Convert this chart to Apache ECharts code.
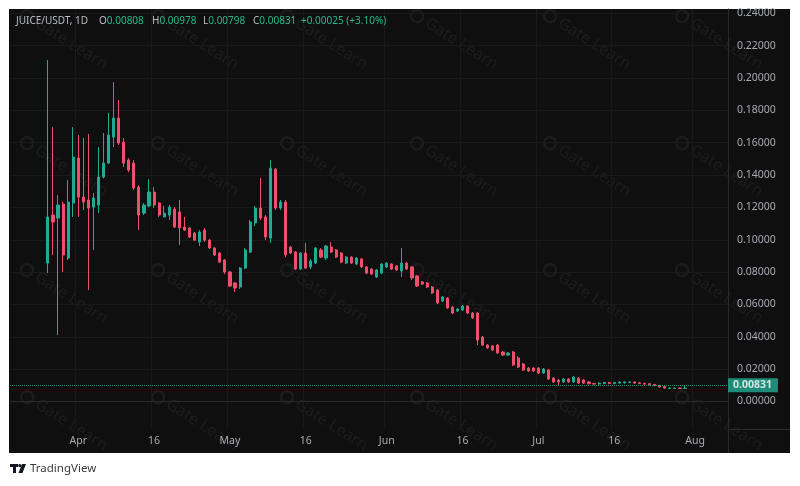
<!DOCTYPE html>
<html><head><meta charset="utf-8">
<script src="https://cdn.jsdelivr.net/npm/echarts@6/dist/echarts.min.js"></script>
<style>html,body{margin:0;padding:0;background:#fff}#c{width:800px;height:486px}</style>
</head><body><div id="c"></div>
<script>
// ---- data ----
const axisStartDate = '2024-03-19';
const axisDayCount = 142;
const firstCandleDate = '2024-03-26';
const opens = [0.0856,0.1153,0.1134,0.1221,0.0887,0.1227,0.1505,0.1264,0.1246,0.1202,
0.1215,0.1388,0.1474,0.1635,0.1753,0.1604,0.1493,0.1474,0.1326,0.1165,
0.1209,0.1295,0.1227,0.1141,0.1153,0.1190,0.1172,0.1079,0.1073,0.1042,
0.0986,0.1060,0.0998,0.0949,0.0918,0.0875,0.0801,0.0733,0.0708,0.0825,
0.0924,0.1104,0.1196,0.1141,0.1011,0.1437,0.1196,0.1233,0.0955,0.0924,
0.0819,0.0918,0.0832,0.0856,0.0937,0.0887,0.0955,0.0937,0.0918,0.0856,
0.0893,0.0850,0.0881,0.0832,0.0819,0.0770,0.0794,0.0832,0.0850,0.0838,
0.0807,0.0856,0.0832,0.0776,0.0739,0.0733,0.0708,0.0689,0.0621,0.0640,
0.0584,0.0560,0.0566,0.0590,0.0547,0.0547,0.0399,0.0349,0.0343,0.0349,
0.0306,0.0287,0.0306,0.0269,0.0232,0.0207,0.0207,0.0207,0.0176,0.0195,
0.0145,0.0133,0.0121,0.0139,0.0121,0.0145,0.0133,0.0121,0.0111,0.0108,
0.0111,0.0117,0.0111,0.0114,0.0115,0.0118,0.0121,0.0116,0.0112,0.0110,
0.0105,0.0099,0.0093,0.0080,0.0081,0.0083,0.00808];
const closes = [0.1141,0.1110,0.1215,0.0906,0.1233,0.1511,0.1264,0.1233,0.1196,0.1258,
0.1388,0.1474,0.1648,0.1753,0.1598,0.1474,0.1431,0.1320,0.1153,0.1215,
0.1295,0.1215,0.1153,0.1165,0.1202,0.1079,0.1073,0.1060,0.1017,0.0998,
0.1048,0.0998,0.0949,0.0906,0.0862,0.0801,0.0714,0.0702,0.0825,0.0937,
0.1110,0.1196,0.1134,0.1017,0.1443,0.1196,0.1233,0.0906,0.0918,0.0819,
0.0918,0.0825,0.0869,0.0949,0.0893,0.0961,0.0924,0.0893,0.0862,0.0893,
0.0856,0.0887,0.0832,0.0794,0.0788,0.0813,0.0850,0.0856,0.0819,0.0813,
0.0856,0.0819,0.0764,0.0714,0.0726,0.0708,0.0671,0.0609,0.0646,0.0578,
0.0547,0.0572,0.0590,0.0547,0.0516,0.0380,0.0349,0.0331,0.0318,0.0300,
0.0287,0.0300,0.0226,0.0213,0.0195,0.0189,0.0189,0.0176,0.0201,0.0139,
0.0121,0.0121,0.0139,0.0121,0.0151,0.0114,0.0114,0.0111,0.0108,0.0114,
0.0117,0.0111,0.0117,0.0120,0.0121,0.0121,0.0114,0.0111,0.0108,0.0104,
0.0098,0.0090,0.0083,0.0083,0.0083,0.00806,0.00831];
const lows = [0.0794,0.0906,0.0411,0.0801,0.0875,0.1141,0.1141,0.1184,0.0689,0.0937,
0.1165,0.1380,0.1468,0.1573,0.1586,0.1450,0.1419,0.1308,0.1060,0.1153,
0.1202,0.1196,0.1141,0.1141,0.1122,0.1073,0.0968,0.1054,0.1011,0.0992,
0.0961,0.0986,0.0943,0.0900,0.0856,0.0788,0.0708,0.0677,0.0696,0.0819,
0.0918,0.1085,0.1122,0.0998,0.0980,0.1184,0.1184,0.0893,0.0912,0.0813,
0.0813,0.0819,0.0819,0.0850,0.0887,0.0875,0.0918,0.0887,0.0856,0.0850,
0.0850,0.0844,0.0825,0.0788,0.0782,0.0764,0.0788,0.0825,0.0813,0.0807,
0.0770,0.0813,0.0751,0.0708,0.0720,0.0702,0.0665,0.0603,0.0615,0.0572,
0.0541,0.0553,0.0560,0.0541,0.0510,0.0349,0.0343,0.0325,0.0312,0.0294,
0.0281,0.0281,0.0220,0.0207,0.0189,0.0183,0.0183,0.0170,0.0170,0.0133,
0.0115,0.0102,0.0115,0.0115,0.0115,0.0108,0.0108,0.0105,0.0104,0.0104,
0.0107,0.0107,0.0107,0.0110,0.0111,0.0114,0.0110,0.0107,0.0104,0.0100,
0.0094,0.0086,0.0079,0.0077,0.0078,0.0078,0.00798];
const highs = [0.2111,0.1697,0.1277,0.1235,0.1369,0.1697,0.1648,0.1629,0.1654,0.1289,
0.1573,0.1660,0.1784,0.1975,0.1864,0.1629,0.1505,0.1493,0.1338,0.1227,
0.1375,0.1326,0.1233,0.1209,0.1215,0.1202,0.1246,0.1141,0.1079,0.1048,
0.1060,0.1073,0.1004,0.0955,0.0924,0.0881,0.0807,0.0739,0.0832,0.0949,
0.1122,0.1209,0.1382,0.1153,0.1493,0.1443,0.1246,0.1246,0.0961,0.0930,
0.0924,0.0980,0.0881,0.0955,0.0949,0.0968,0.0986,0.0943,0.0924,0.0900,
0.0900,0.0893,0.0887,0.0838,0.0825,0.0819,0.0856,0.0862,0.0856,0.0844,
0.0949,0.0862,0.0838,0.0782,0.0745,0.0739,0.0714,0.0696,0.0652,0.0646,
0.0590,0.0578,0.0596,0.0596,0.0553,0.0553,0.0405,0.0355,0.0349,0.0355,
0.0312,0.0306,0.0312,0.0281,0.0238,0.0213,0.0213,0.0213,0.0207,0.0201,
0.0151,0.0139,0.0145,0.0145,0.0157,0.0151,0.0139,0.0127,0.0115,0.0118,
0.0121,0.0121,0.0121,0.0124,0.0125,0.0125,0.0125,0.0120,0.0116,0.0114,
0.0109,0.0103,0.0097,0.0087,0.0087,0.0087,0.00978];
const priceTicks = [0,0.02,0.04,0.06,0.08,0.10,0.12,0.14,0.16,0.18,0.20,0.22,0.24];
const monthNames = ['Jan','Feb','Mar','Apr','May','Jun','Jul','Aug','Sep','Oct','Nov','Dec'];
const lastPrice = 0.00831;
const headerSymbol = 'JUICE/USDT, 1D';
const headerOHLC = [['O','0.00808'],['H','0.00978'],['L','0.00798'],['C','0.00831']];
const headerChange = '+0.00025 (+3.10%)';

// ---- build ----
function ymd(d){return d.toISOString().slice(0,10);}
const categories = [];
{ const d = new Date(axisStartDate+'T00:00:00Z'); for(let i=0;i<axisDayCount;i++){categories.push(ymd(d)); d.setUTCDate(d.getUTCDate()+1);} }
const offset = categories.indexOf(firstCandleDate);
const candleData = categories.map((c,i)=>{const k=i-offset; return (k>=0&&k<opens.length)?[opens[k],closes[k],lows[k],highs[k]]:'-';});

const UP='#22ab94', DOWN='#ef4f6c';
const FONT='"Noto Sans", sans-serif';
const labelDay = (idx,val)=>{const dd=val.slice(8,10); return dd==='01'||dd==='16';};

const graphics = [];
graphics.push({type:'rect', z:-10, silent:true, shape:{x:9,y:9,width:781,height:444}, style:{fill:'#0f0f0f'}});
graphics.push({type:'line', z:5, silent:true, shape:{x1:728.5,y1:429,x2:728.5,y2:453}, style:{stroke:'#2b2b2b',lineWidth:1}});
graphics.push({type:'line', z:5, silent:true, shape:{x1:728,y1:429.5,x2:790,y2:429.5}, style:{stroke:'#2b2b2b',lineWidth:1}});
// watermarks
const wmX=[22,153,282,412,545,677], wmY=[13,140,267,394];
wmY.forEach(y=>wmX.forEach(x=>{
  graphics.push({type:'group', x:x, y:y, rotation:-0.56, z:-5, silent:true, children:[
    {type:'circle', shape:{cx:6,cy:0,r:6}, style:{fill:'none',stroke:'rgba(255,255,255,0.055)',lineWidth:2.5}},
    {type:'text', x:17, y:0, style:{text:'Gate Learn', fill:'rgba(255,255,255,0.055)', font:'16px '+FONT, verticalAlign:'middle'}}
  ]});
}));
// header
const HF='10px '+FONT;
graphics.push({type:'text', z:10, x:16, y:21, style:{text:headerSymbol, fill:'#b9bcc4', font:HF, verticalAlign:'middle'}});
const hx=[99,152,203,253];
headerOHLC.forEach((p,i)=>{
  graphics.push({type:'text', z:10, x:hx[i], y:21, style:{text:'{l|'+p[0]+'}{v|'+p[1]+'}', font:HF, verticalAlign:'middle',
    rich:{l:{fill:'#b9bcc4', font:HF}, v:{fill:'#2bb88c', font:HF}}}});
});
graphics.push({type:'text', z:10, x:301, y:21, style:{text:headerChange, fill:'#2bb88c', font:HF, verticalAlign:'middle'}});
// TradingView footer
graphics.push({type:'rect', silent:true, shape:{x:10,y:464,width:8,height:3}, style:{fill:'#131722'}});
graphics.push({type:'rect', silent:true, shape:{x:13,y:464,width:3,height:9}, style:{fill:'#131722'}});
graphics.push({type:'circle', silent:true, shape:{cx:19.8,cy:465.6,r:1.6}, style:{fill:'#131722'}});
graphics.push({type:'polygon', silent:true, shape:{points:[[22,464],[26,464],[22.5,473],[18.5,473]]}, style:{fill:'#131722'}});
graphics.push({type:'text', x:30, y:469, style:{text:'TradingView', fill:'#3b3b3b', font:'11.5px '+FONT, verticalAlign:'middle'}});

const chart = echarts.init(document.getElementById('c'), null, {renderer:'canvas'});
chart.setOption({
  backgroundColor:'#ffffff',
  animation:false,
  textStyle:{fontFamily:FONT},
  grid:{left:10, right:72, top:9, bottom:57},
  xAxis:{type:'category', data:categories, boundaryGap:true,
    axisLine:{show:true, lineStyle:{color:'#2b2b2b'}},
    axisTick:{show:false},
    axisLabel:{interval:labelDay, color:'#a8abb3', fontSize:10.5, margin:7,
      formatter:v=>{const dd=v.slice(8,10); return dd==='01'?monthNames[+v.slice(5,7)-1]:'16';}},
    splitLine:{show:true, interval:labelDay, lineStyle:{color:'#191919'}}},
  yAxis:{type:'value', position:'right', min:-0.0170, max:0.2427, scale:false,
    axisLine:{show:true, lineStyle:{color:'#2b2b2b'}},
    axisTick:{show:false, customValues:priceTicks},
    axisLabel:{customValues:priceTicks, color:'#a8abb3', fontSize:10.5, margin:9, formatter:v=>v.toFixed(5)},
    splitLine:{show:true, lineStyle:{color:'#191919'}}},
  graphic:graphics,
  series:[{type:'candlestick', data:candleData, barWidth:2.6,
    itemStyle:{color:UP, color0:DOWN, borderColor:UP, borderColor0:DOWN, borderWidth:1},
    markLine:{silent:true, symbol:['none','none'], data:[{yAxis:lastPrice}],
      lineStyle:{color:'#22ab94', type:'dotted', width:1, opacity:0.8},
      label:{position:'end', distance:0, formatter:()=>lastPrice.toFixed(5), color:'#fff', backgroundColor:'#22ab94',
        padding:[2,6,1,5], fontWeight:'bold', fontSize:10.5, fontFamily:FONT}}
  }]
});
</script></body></html>
